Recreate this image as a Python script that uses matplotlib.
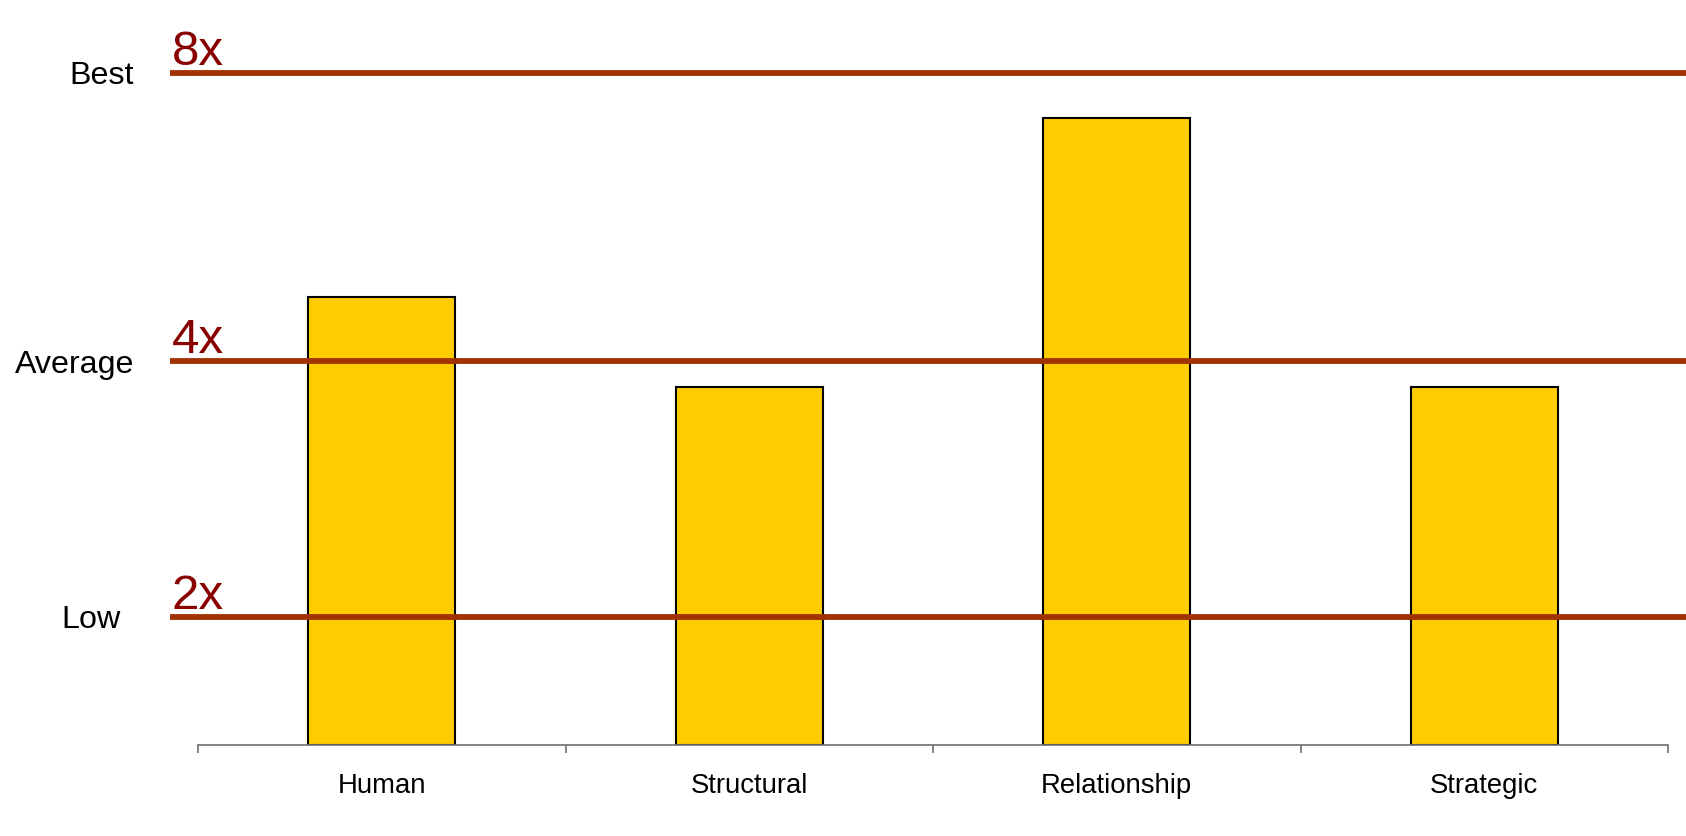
import matplotlib.pyplot as plt
import matplotlib.transforms as mtransforms
import numpy as np

plt.rcParams['font.family'] = ['Liberation Sans', 'DejaVu Sans']

# data
categories = ['Human', 'Structural', 'Relationship', 'Strategic']
values = [3.5, 2.8, 4.9, 2.8]
level_names = ['Low', 'Average', 'Best']
level_marks = ['2x', '4x', '8x']
level_values = [1.0, 3.0, 5.25]

fig = plt.figure(figsize=(16.86, 8.36), dpi=100)
ax = fig.add_axes([170 / 1686, 91 / 836, 1516 / 1686, 745 / 836])

x = np.arange(len(categories))
ax.bar(x, values, width=0.4, color='#FFCC00', edgecolor='black', linewidth=1.5, zorder=2)

for lv, mark in zip(level_values, level_marks):
    ax.axhline(lv, color='#A03300', linewidth=4.2, zorder=3)
    ax.annotate(mark, xy=(0.0, lv), xycoords=ax.get_yaxis_transform(),
                xytext=(1, -1.5), textcoords='offset points',
                ha='left', va='bottom', fontsize=35.5, color='#880000')

ax.set_xlim(-0.5 - 28 / 367.5, 3.5 + 18 / 367.5)
ax.set_ylim(0, 745 / 128)

for s in ['top', 'right', 'left']:
    ax.spines[s].set_visible(False)
ax.spines['bottom'].set_bounds(-0.5, len(categories) - 0.5)
ax.spines['bottom'].set_color('#707070')
ax.spines['bottom'].set_linewidth(1.2)

ax.set_xticks(np.arange(len(categories) + 1) - 0.5)
ax.set_xticklabels([])
ax.tick_params(axis='x', which='major', direction='out', length=6, width=1.2, color='#707070')
ax.set_xticks(x, minor=True)
ax.set_xticklabels(categories, minor=True, fontsize=19.8)
ax.tick_params(axis='x', which='minor', length=0, pad=20)

ax.set_yticks(level_values)
ax.set_yticklabels(level_names, fontsize=23.2)
ax.tick_params(axis='y', length=0, pad=26)

# the "Low" label sits a bit further left in the original
low = ax.get_yticklabels()[0]
low.set_transform(low.get_transform() + mtransforms.ScaledTranslation(-0.13, 0, fig.dpi_scale_trans))

fig.savefig('out.png', dpi=100)
